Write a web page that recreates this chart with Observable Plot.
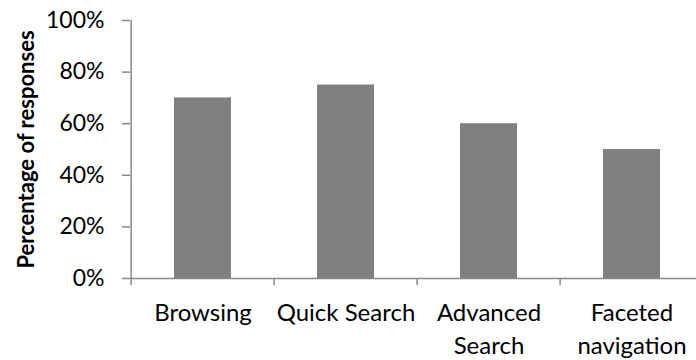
<!DOCTYPE html>
<html><head><meta charset="utf-8">
<script src="https://cdn.jsdelivr.net/npm/d3@7"></script>
<script src="https://cdn.jsdelivr.net/npm/@observablehq/plot@0.6"></script>
<style>body{margin:0;background:#fff}</style>
</head><body><div id="chart"></div>
<script>
const categories = ["Browsing", "Quick Search", "Advanced Search", "Faceted navigation"];
const tickLabels = ["Browsing", "Quick Search", "Advanced\nSearch", "Faceted\nnavigation"];
const values = [70, 75, 60, 50];
const yTicks = [0, 20, 40, 60, 80, 100];
const yLabel = "Percentage of responses";

const data = categories.map((c, i) => ({category: c, value: values[i]}));
const X0 = 130, X1 = 705;
const step = (X1 - X0) / categories.length;
const axisColor = "#888888";

const plot = Plot.plot({
  width: 696, height: 360,
  marginLeft: 130, marginRight: 0, marginTop: 20, marginBottom: 82,
  style: {fontFamily: "Lato", fontSize: "23px", color: "#000", background: "#fff", overflow: "visible"},
  x: {domain: categories, range: [X0, X1], paddingInner: 0.6, paddingOuter: 0.3},
  y: {domain: [0, 100]},
  marks: [
    Plot.barY(data, {x: "category", y: "value", fill: "#808080"}),
    Plot.ruleY([0], {stroke: axisColor, strokeWidth: 1.5}),
    Plot.ruleX(categories.slice(0, 1), {x: d => d, dx: -step / 2, y1: 0, y2: 100, stroke: axisColor, strokeWidth: 1.5}),
    Plot.ruleX(categories, {x: d => d, dx: -step / 2, y1: 0, y2: 0, insetBottom: -7, stroke: axisColor, strokeWidth: 1.5}),
    Plot.axisY({ticks: yTicks, tickFormat: d => d + "%", tickSize: 8, tickPadding: 18, stroke: axisColor, strokeWidth: 1.5, fontSize: 23, label: null}),
    Plot.axisX({tickSize: 0, tickPadding: 19, tickFormat: d => tickLabels[categories.indexOf(d)], fontSize: 24, lineHeight: 1.375, label: null}),
    Plot.text([yLabel], {frameAnchor: "left", rotate: -90, dx: -104, textAnchor: "middle", fontWeight: "bold", fontSize: 22, fill: "#000"})
  ]
});
document.getElementById("chart").appendChild(plot);
</script>
</body></html>
